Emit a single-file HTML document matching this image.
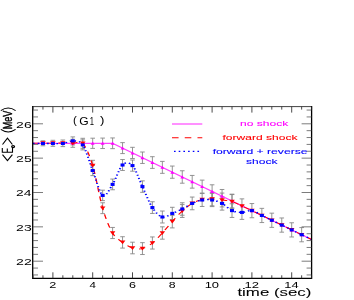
<!DOCTYPE html><html><head><meta charset="utf-8"><style>html,body{margin:0;padding:0;background:#fff;width:354px;height:300px;overflow:hidden}</style></head><body><svg width="354" height="300" viewBox="0 0 354 300" style="position:absolute;left:0;top:0;will-change:transform" font-family="Liberation Sans, sans-serif">
<defs><clipPath id="cp"><rect x="33.00" y="106.60" width="278.60" height="171.70"/></clipPath></defs>
<path d="M42.95 140.80V145.80M40.65 140.80H45.25M40.65 145.80H45.25" stroke="#888888" stroke-width="0.9" fill="none"/>
<path d="M52.90 140.30V146.30M50.60 140.30H55.20M50.60 146.30H55.20" stroke="#888888" stroke-width="0.9" fill="none"/>
<path d="M62.85 140.00V146.60M60.55 140.00H65.15M60.55 146.60H65.15" stroke="#888888" stroke-width="0.9" fill="none"/>
<path d="M72.80 139.30V147.30M70.50 139.30H75.10M70.50 147.30H75.10" stroke="#888888" stroke-width="0.9" fill="none"/>
<path d="M72.80 136.90V144.90M70.50 136.90H75.10M70.50 144.90H75.10" stroke="#888888" stroke-width="0.9" fill="none"/>
<path d="M82.75 138.30V148.30M80.45 138.30H85.05M80.45 148.30H85.05" stroke="#888888" stroke-width="0.9" fill="none"/>
<path d="M82.75 139.90V149.90M80.45 139.90H85.05M80.45 149.90H85.05" stroke="#888888" stroke-width="0.9" fill="none"/>
<path d="M92.70 138.20V148.40M90.40 138.20H95.00M90.40 148.40H95.00" stroke="#888888" stroke-width="0.9" fill="none"/>
<path d="M92.70 165.40V175.60M90.40 165.40H95.00M90.40 175.60H95.00" stroke="#888888" stroke-width="0.9" fill="none"/>
<path d="M92.70 160.30V170.90M90.40 160.30H95.00M90.40 170.90H95.00" stroke="#888888" stroke-width="0.9" fill="none"/>
<path d="M102.65 138.08V148.53M100.35 138.08H104.95M100.35 148.53H104.95" stroke="#888888" stroke-width="0.9" fill="none"/>
<path d="M102.65 190.18V200.62M100.35 190.18H104.95M100.35 200.62H104.95" stroke="#888888" stroke-width="0.9" fill="none"/>
<path d="M102.65 202.77V213.62M100.35 202.77H104.95M100.35 213.62H104.95" stroke="#888888" stroke-width="0.9" fill="none"/>
<path d="M112.60 137.95V148.65M110.30 137.95H114.90M110.30 148.65H114.90" stroke="#888888" stroke-width="0.9" fill="none"/>
<path d="M112.60 179.05V189.75M110.30 179.05H114.90M110.30 189.75H114.90" stroke="#888888" stroke-width="0.9" fill="none"/>
<path d="M112.60 227.45V238.55M110.30 227.45H114.90M110.30 238.55H114.90" stroke="#888888" stroke-width="0.9" fill="none"/>
<path d="M122.55 142.64V153.59M120.25 142.64H124.85M120.25 153.59H124.85" stroke="#888888" stroke-width="0.9" fill="none"/>
<path d="M122.55 159.53V170.47M120.25 159.53H124.85M120.25 170.47H124.85" stroke="#888888" stroke-width="0.9" fill="none"/>
<path d="M122.55 236.72V248.08M120.25 236.72H124.85M120.25 248.08H124.85" stroke="#888888" stroke-width="0.9" fill="none"/>
<path d="M132.50 147.32V158.52M130.20 147.32H134.80M130.20 158.52H134.80" stroke="#888888" stroke-width="0.9" fill="none"/>
<path d="M132.50 160.00V171.20M130.20 160.00H134.80M130.20 171.20H134.80" stroke="#888888" stroke-width="0.9" fill="none"/>
<path d="M132.50 242.20V253.80M130.20 242.20H134.80M130.20 253.80H134.80" stroke="#888888" stroke-width="0.9" fill="none"/>
<path d="M142.45 152.01V163.46M140.15 152.01H144.75M140.15 163.46H144.75" stroke="#888888" stroke-width="0.9" fill="none"/>
<path d="M142.45 180.88V192.32M140.15 180.88H144.75M140.15 192.32H144.75" stroke="#888888" stroke-width="0.9" fill="none"/>
<path d="M142.45 242.67V254.53M140.15 242.67H144.75M140.15 254.53H144.75" stroke="#888888" stroke-width="0.9" fill="none"/>
<path d="M152.40 156.69V168.39M150.10 156.69H154.70M150.10 168.39H154.70" stroke="#888888" stroke-width="0.9" fill="none"/>
<path d="M152.40 201.75V213.45M150.10 201.75H154.70M150.10 213.45H154.70" stroke="#888888" stroke-width="0.9" fill="none"/>
<path d="M152.40 236.95V249.05M150.10 236.95H154.70M150.10 249.05H154.70" stroke="#888888" stroke-width="0.9" fill="none"/>
<path d="M162.35 161.38V173.33M160.05 161.38H164.65M160.05 173.33H164.65" stroke="#888888" stroke-width="0.9" fill="none"/>
<path d="M162.35 211.03V222.97M160.05 211.03H164.65M160.05 222.97H164.65" stroke="#888888" stroke-width="0.9" fill="none"/>
<path d="M162.35 226.82V239.18M160.05 226.82H164.65M160.05 239.18H164.65" stroke="#888888" stroke-width="0.9" fill="none"/>
<path d="M172.30 166.06V178.26M170.00 166.06H174.60M170.00 178.26H174.60" stroke="#888888" stroke-width="0.9" fill="none"/>
<path d="M172.30 207.30V219.50M170.00 207.30H174.60M170.00 219.50H174.60" stroke="#888888" stroke-width="0.9" fill="none"/>
<path d="M172.30 215.30V227.90M170.00 215.30H174.60M170.00 227.90H174.60" stroke="#888888" stroke-width="0.9" fill="none"/>
<path d="M182.25 170.75V183.19M179.95 170.75H184.55M179.95 183.19H184.55" stroke="#888888" stroke-width="0.9" fill="none"/>
<path d="M182.25 202.78V215.22M179.95 202.78H184.55M179.95 215.22H184.55" stroke="#888888" stroke-width="0.9" fill="none"/>
<path d="M182.25 204.57V217.43M179.95 204.57H184.55M179.95 217.43H184.55" stroke="#888888" stroke-width="0.9" fill="none"/>
<path d="M192.20 175.43V188.13M189.90 175.43H194.50M189.90 188.13H194.50" stroke="#888888" stroke-width="0.9" fill="none"/>
<path d="M192.20 197.05V209.75M189.90 197.05H194.50M189.90 209.75H194.50" stroke="#888888" stroke-width="0.9" fill="none"/>
<path d="M202.15 180.12V193.06M199.85 180.12H204.45M199.85 193.06H204.45" stroke="#888888" stroke-width="0.9" fill="none"/>
<path d="M202.15 193.53V206.47M199.85 193.53H204.45M199.85 206.47H204.45" stroke="#888888" stroke-width="0.9" fill="none"/>
<path d="M212.10 184.80V198.00M209.80 184.80H214.40M209.80 198.00H214.40" stroke="#888888" stroke-width="0.9" fill="none"/>
<path d="M212.10 193.40V206.60M209.80 193.40H214.40M209.80 206.60H214.40" stroke="#888888" stroke-width="0.9" fill="none"/>
<path d="M212.10 192.20V205.80M209.80 192.20H214.40M209.80 205.80H214.40" stroke="#888888" stroke-width="0.9" fill="none"/>
<path d="M222.05 189.49V202.94M219.75 189.49H224.35M219.75 202.94H224.35" stroke="#888888" stroke-width="0.9" fill="none"/>
<path d="M222.05 196.68V210.12M219.75 196.68H224.35M219.75 210.12H224.35" stroke="#888888" stroke-width="0.9" fill="none"/>
<path d="M222.05 193.07V206.93M219.75 193.07H224.35M219.75 206.93H224.35" stroke="#888888" stroke-width="0.9" fill="none"/>
<path d="M232.00 194.17V207.87M229.70 194.17H234.30M229.70 207.87H234.30" stroke="#888888" stroke-width="0.9" fill="none"/>
<path d="M232.00 203.75V217.45M229.70 203.75H234.30M229.70 217.45H234.30" stroke="#888888" stroke-width="0.9" fill="none"/>
<path d="M232.00 194.55V208.65M229.70 194.55H234.30M229.70 208.65H234.30" stroke="#888888" stroke-width="0.9" fill="none"/>
<path d="M241.95 198.86V212.81M239.65 198.86H244.25M239.65 212.81H244.25" stroke="#888888" stroke-width="0.9" fill="none"/>
<path d="M241.95 205.43V219.38M239.65 205.43H244.25M239.65 219.38H244.25" stroke="#888888" stroke-width="0.9" fill="none"/>
<path d="M251.90 203.54V217.74M249.60 203.54H254.20M249.60 217.74H254.20" stroke="#888888" stroke-width="0.9" fill="none"/>
<path d="M261.85 208.35V222.55M259.55 208.35H264.15M259.55 222.55H264.15" stroke="#888888" stroke-width="0.9" fill="none"/>
<path d="M271.80 213.16V227.36M269.50 213.16H274.10M269.50 227.36H274.10" stroke="#888888" stroke-width="0.9" fill="none"/>
<path d="M281.75 217.97V232.17M279.45 217.97H284.05M279.45 232.17H284.05" stroke="#888888" stroke-width="0.9" fill="none"/>
<path d="M291.70 222.78V236.98M289.40 222.78H294.00M289.40 236.98H294.00" stroke="#888888" stroke-width="0.9" fill="none"/>
<path d="M301.65 227.59V241.79M299.35 227.59H303.95M299.35 241.79H303.95" stroke="#888888" stroke-width="0.9" fill="none"/>
<g clip-path="url(#cp)"><g fill="none" transform="scale(1.400,1)">
<path d="M23.57 143.30L80.43 143.30L222.57 239.50" stroke="#ff40ff" stroke-width="1.15"/>
<path d="M23.57 143.10 C24.76 143.10 28.31 143.10 30.68 143.10 C33.05 143.10 35.42 143.10 37.79 143.10 C40.15 143.10 42.52 143.05 44.89 143.10 C47.26 143.15 49.63 143.35 52.00 143.40 C54.37 143.45 56.74 139.70 59.11 143.40 C61.48 147.10 63.85 154.80 66.21 165.60 C68.58 176.40 70.95 196.97 73.32 208.20 C75.69 219.43 78.06 227.30 80.43 233.00 C82.80 238.70 85.17 239.90 87.54 242.40 C89.90 244.90 92.27 246.97 94.64 248.00 C97.01 249.03 99.38 249.43 101.75 248.60 C104.12 247.77 106.49 245.60 108.86 243.00 C111.23 240.40 113.60 236.57 115.96 233.00 C118.33 229.43 120.70 225.27 123.07 221.60 C125.44 217.93 127.81 214.03 130.18 211.00 C132.55 207.97 134.92 205.30 137.29 203.40 C139.65 201.50 142.02 200.33 144.39 199.60 C146.76 198.87 149.13 198.93 151.50 199.00 C153.87 199.07 156.24 199.57 158.61 200.00 C160.98 200.43 163.35 200.60 165.71 201.60 C168.08 202.60 170.45 204.50 172.82 206.00 C175.19 207.50 177.56 209.03 179.93 210.60 C182.30 212.17 184.67 213.84 187.04 215.45 C189.40 217.06 191.77 218.66 194.14 220.26 C196.51 221.86 198.88 223.47 201.25 225.07 C203.62 226.67 205.99 228.28 208.36 229.88 C210.73 231.48 213.10 233.09 215.46 234.69 C217.83 236.29 221.39 238.70 222.57 239.50" stroke="#ff0000" stroke-width="0.95" stroke-dasharray="4.7 4.4"/>
<path d="M23.57 143.50 C24.76 143.50 28.31 143.50 30.68 143.50 C33.05 143.50 35.42 143.50 37.79 143.50 C40.15 143.50 42.52 143.93 44.89 143.50 C47.26 143.07 49.63 140.67 52.00 140.90 C54.37 141.13 56.74 139.97 59.11 144.90 C61.48 149.83 63.85 162.08 66.21 170.50 C68.58 178.92 70.95 193.08 73.32 195.40 C75.69 197.72 78.06 189.47 80.43 184.40 C82.80 179.33 85.17 168.13 87.54 165.00 C89.90 161.87 92.27 162.00 94.64 165.60 C97.01 169.20 99.38 179.60 101.75 186.60 C104.12 193.60 106.49 202.53 108.86 207.60 C111.23 212.67 113.60 216.03 115.96 217.00 C118.33 217.97 120.70 214.73 123.07 213.40 C125.44 212.07 127.81 210.67 130.18 209.00 C132.55 207.33 134.92 204.90 137.29 203.40 C139.65 201.90 142.02 200.57 144.39 200.00 C146.76 199.43 149.13 199.43 151.50 200.00 C153.87 200.57 156.24 201.63 158.61 203.40 C160.98 205.17 163.35 209.10 165.71 210.60 C168.08 212.10 170.45 212.40 172.82 212.40 C175.19 212.40 177.56 210.09 179.93 210.60 C182.30 211.11 184.67 213.84 187.04 215.45 C189.40 217.06 191.77 218.66 194.14 220.26 C196.51 221.86 198.88 223.47 201.25 225.07 C203.62 226.67 205.99 228.28 208.36 229.88 C210.73 231.48 213.10 233.09 215.46 234.69 C217.83 236.29 221.39 238.70 222.57 239.50" stroke="#0000ff" stroke-width="1.4" stroke-dasharray="1.15 2.2"/>
</g></g>
<path d="M42.95 141.60l1.9 3.2h-3.8z" fill="#ff00ff"/>
<path d="M52.90 141.60l1.9 3.2h-3.8z" fill="#ff00ff"/>
<path d="M62.85 141.60l1.9 3.2h-3.8z" fill="#ff00ff"/>
<path d="M72.80 141.60l1.9 3.2h-3.8z" fill="#ff00ff"/>
<path d="M82.75 141.60l1.9 3.2h-3.8z" fill="#ff00ff"/>
<path d="M92.70 141.60l1.9 3.2h-3.8z" fill="#ff00ff"/>
<path d="M102.65 141.60l1.9 3.2h-3.8z" fill="#ff00ff"/>
<path d="M112.60 141.60l1.9 3.2h-3.8z" fill="#ff00ff"/>
<path d="M122.55 146.41l1.9 3.2h-3.8z" fill="#ff00ff"/>
<path d="M132.50 151.22l1.9 3.2h-3.8z" fill="#ff00ff"/>
<path d="M142.45 156.03l1.9 3.2h-3.8z" fill="#ff00ff"/>
<path d="M152.40 160.84l1.9 3.2h-3.8z" fill="#ff00ff"/>
<path d="M162.35 165.65l1.9 3.2h-3.8z" fill="#ff00ff"/>
<path d="M172.30 170.46l1.9 3.2h-3.8z" fill="#ff00ff"/>
<path d="M182.25 175.27l1.9 3.2h-3.8z" fill="#ff00ff"/>
<path d="M192.20 180.08l1.9 3.2h-3.8z" fill="#ff00ff"/>
<path d="M202.15 184.89l1.9 3.2h-3.8z" fill="#ff00ff"/>
<path d="M212.10 189.70l1.9 3.2h-3.8z" fill="#ff00ff"/>
<path d="M222.05 194.51l1.9 3.2h-3.8z" fill="#ff00ff"/>
<path d="M232.00 199.32l1.9 3.2h-3.8z" fill="#ff00ff"/>
<path d="M241.95 204.13l1.9 3.2h-3.8z" fill="#ff00ff"/>
<path d="M251.90 208.94l1.9 3.2h-3.8z" fill="#ff00ff"/>
<path d="M261.85 213.75l1.9 3.2h-3.8z" fill="#ff00ff"/>
<path d="M271.80 218.56l1.9 3.2h-3.8z" fill="#ff00ff"/>
<path d="M281.75 223.37l1.9 3.2h-3.8z" fill="#ff00ff"/>
<path d="M291.70 228.18l1.9 3.2h-3.8z" fill="#ff00ff"/>
<path d="M301.65 232.99l1.9 3.2h-3.8z" fill="#ff00ff"/>
<path d="M40.15 141.30h5.6l-2.8 3.7z" fill="#ff0000"/>
<path d="M50.10 141.30h5.6l-2.8 3.7z" fill="#ff0000"/>
<path d="M60.05 141.30h5.6l-2.8 3.7z" fill="#ff0000"/>
<path d="M70.00 141.60h5.6l-2.8 3.7z" fill="#ff0000"/>
<path d="M79.95 141.60h5.6l-2.8 3.7z" fill="#ff0000"/>
<path d="M89.90 163.80h5.6l-2.8 3.7z" fill="#ff0000"/>
<path d="M99.85 206.40h5.6l-2.8 3.7z" fill="#ff0000"/>
<path d="M109.80 231.20h5.6l-2.8 3.7z" fill="#ff0000"/>
<path d="M119.75 240.60h5.6l-2.8 3.7z" fill="#ff0000"/>
<path d="M129.70 246.20h5.6l-2.8 3.7z" fill="#ff0000"/>
<path d="M139.65 246.80h5.6l-2.8 3.7z" fill="#ff0000"/>
<path d="M149.60 241.20h5.6l-2.8 3.7z" fill="#ff0000"/>
<path d="M159.55 231.20h5.6l-2.8 3.7z" fill="#ff0000"/>
<path d="M169.50 219.80h5.6l-2.8 3.7z" fill="#ff0000"/>
<path d="M179.45 209.20h5.6l-2.8 3.7z" fill="#ff0000"/>
<path d="M189.40 201.60h5.6l-2.8 3.7z" fill="#ff0000"/>
<path d="M199.35 197.80h5.6l-2.8 3.7z" fill="#ff0000"/>
<path d="M209.30 197.20h5.6l-2.8 3.7z" fill="#ff0000"/>
<path d="M219.25 198.20h5.6l-2.8 3.7z" fill="#ff0000"/>
<path d="M229.20 199.80h5.6l-2.8 3.7z" fill="#ff0000"/>
<path d="M239.15 204.20h5.6l-2.8 3.7z" fill="#ff0000"/>
<path d="M249.10 208.80h5.6l-2.8 3.7z" fill="#ff0000"/>
<path d="M259.05 213.65h5.6l-2.8 3.7z" fill="#ff0000"/>
<path d="M269.00 218.46h5.6l-2.8 3.7z" fill="#ff0000"/>
<path d="M278.95 223.27h5.6l-2.8 3.7z" fill="#ff0000"/>
<path d="M288.90 228.08h5.6l-2.8 3.7z" fill="#ff0000"/>
<path d="M298.85 232.89h5.6l-2.8 3.7z" fill="#ff0000"/>
<rect x="40.95" y="141.95" width="4.0" height="3.1" fill="#0000ff"/>
<rect x="50.90" y="141.95" width="4.0" height="3.1" fill="#0000ff"/>
<rect x="60.85" y="141.95" width="4.0" height="3.1" fill="#0000ff"/>
<rect x="70.80" y="139.35" width="4.0" height="3.1" fill="#0000ff"/>
<rect x="80.75" y="143.35" width="4.0" height="3.1" fill="#0000ff"/>
<rect x="90.70" y="168.95" width="4.0" height="3.1" fill="#0000ff"/>
<rect x="100.65" y="193.85" width="4.0" height="3.1" fill="#0000ff"/>
<rect x="110.60" y="182.85" width="4.0" height="3.1" fill="#0000ff"/>
<rect x="120.55" y="163.45" width="4.0" height="3.1" fill="#0000ff"/>
<rect x="130.50" y="164.05" width="4.0" height="3.1" fill="#0000ff"/>
<rect x="140.45" y="185.05" width="4.0" height="3.1" fill="#0000ff"/>
<rect x="150.40" y="206.05" width="4.0" height="3.1" fill="#0000ff"/>
<rect x="160.35" y="215.45" width="4.0" height="3.1" fill="#0000ff"/>
<rect x="170.30" y="211.85" width="4.0" height="3.1" fill="#0000ff"/>
<rect x="180.25" y="207.45" width="4.0" height="3.1" fill="#0000ff"/>
<rect x="190.20" y="201.85" width="4.0" height="3.1" fill="#0000ff"/>
<rect x="200.15" y="198.45" width="4.0" height="3.1" fill="#0000ff"/>
<rect x="210.10" y="198.45" width="4.0" height="3.1" fill="#0000ff"/>
<rect x="220.05" y="201.85" width="4.0" height="3.1" fill="#0000ff"/>
<rect x="230.00" y="209.05" width="4.0" height="3.1" fill="#0000ff"/>
<rect x="239.95" y="210.85" width="4.0" height="3.1" fill="#0000ff"/>
<rect x="249.90" y="209.05" width="4.0" height="3.1" fill="#0000ff"/>
<rect x="259.85" y="213.90" width="4.0" height="3.1" fill="#0000ff"/>
<rect x="269.80" y="218.71" width="4.0" height="3.1" fill="#0000ff"/>
<rect x="279.75" y="223.52" width="4.0" height="3.1" fill="#0000ff"/>
<rect x="289.70" y="228.33" width="4.0" height="3.1" fill="#0000ff"/>
<rect x="299.65" y="233.14" width="4.0" height="3.1" fill="#0000ff"/>
<path d="M32.70 106.60V278.30M311.60 106.60V278.30" stroke="#000" stroke-width="1.3" stroke-linecap="square" fill="none"/>
<path d="M33.00 106.60H311.60" stroke="#111" stroke-width="0.8" fill="none"/>
<path d="M33.00 278.30H311.60" stroke="#000" stroke-width="1.2" fill="none"/>
<path d="M33.00 278.30v-3.00M33.00 106.60v3.00M42.95 278.30v-3.00M42.95 106.60v3.00M52.90 278.30v-6.00M52.90 106.60v6.00M62.85 278.30v-3.00M62.85 106.60v3.00M72.80 278.30v-3.00M72.80 106.60v3.00M82.75 278.30v-3.00M82.75 106.60v3.00M92.70 278.30v-6.00M92.70 106.60v6.00M102.65 278.30v-3.00M102.65 106.60v3.00M112.60 278.30v-3.00M112.60 106.60v3.00M122.55 278.30v-3.00M122.55 106.60v3.00M132.50 278.30v-6.00M132.50 106.60v6.00M142.45 278.30v-3.00M142.45 106.60v3.00M152.40 278.30v-3.00M152.40 106.60v3.00M162.35 278.30v-3.00M162.35 106.60v3.00M172.30 278.30v-6.00M172.30 106.60v6.00M182.25 278.30v-3.00M182.25 106.60v3.00M192.20 278.30v-3.00M192.20 106.60v3.00M202.15 278.30v-3.00M202.15 106.60v3.00M212.10 278.30v-6.00M212.10 106.60v6.00M222.05 278.30v-3.00M222.05 106.60v3.00M232.00 278.30v-3.00M232.00 106.60v3.00M241.95 278.30v-3.00M241.95 106.60v3.00M251.90 278.30v-6.00M251.90 106.60v6.00M261.85 278.30v-3.00M261.85 106.60v3.00M271.80 278.30v-3.00M271.80 106.60v3.00M281.75 278.30v-3.00M281.75 106.60v3.00M291.70 278.30v-6.00M291.70 106.60v6.00M301.65 278.30v-3.00M301.65 106.60v3.00M311.60 278.30v-3.00M311.60 106.60v3.00" stroke="#2a2a2a" stroke-width="0.85" fill="none"/>
<path d="M33.00 274.94h5.00M311.60 274.94h-5.00M33.00 268.07h5.00M311.60 268.07h-5.00M33.00 261.20h10.00M311.60 261.20h-10.00M33.00 254.33h5.00M311.60 254.33h-5.00M33.00 247.46h5.00M311.60 247.46h-5.00M33.00 240.59h5.00M311.60 240.59h-5.00M33.00 233.72h5.00M311.60 233.72h-5.00M33.00 226.85h10.00M311.60 226.85h-10.00M33.00 219.98h5.00M311.60 219.98h-5.00M33.00 213.11h5.00M311.60 213.11h-5.00M33.00 206.24h5.00M311.60 206.24h-5.00M33.00 199.37h5.00M311.60 199.37h-5.00M33.00 192.50h10.00M311.60 192.50h-10.00M33.00 185.63h5.00M311.60 185.63h-5.00M33.00 178.76h5.00M311.60 178.76h-5.00M33.00 171.89h5.00M311.60 171.89h-5.00M33.00 165.02h5.00M311.60 165.02h-5.00M33.00 158.15h10.00M311.60 158.15h-10.00M33.00 151.28h5.00M311.60 151.28h-5.00M33.00 144.41h5.00M311.60 144.41h-5.00M33.00 137.54h5.00M311.60 137.54h-5.00M33.00 130.67h5.00M311.60 130.67h-5.00M33.00 123.80h10.00M311.60 123.80h-10.00M33.00 116.93h5.00M311.60 116.93h-5.00M33.00 110.06h5.00M311.60 110.06h-5.00" stroke="#444" stroke-width="0.7" fill="none"/>
<text transform="matrix(1.4130,0,0,0.8883,16.09,265.10)" font-size="10" fill="#000" stroke="#000" stroke-width="0.00" >22</text>
<text transform="matrix(1.4047,0,0,0.8883,16.10,230.75)" font-size="10" fill="#000" stroke="#000" stroke-width="0.00" >23</text>
<text transform="matrix(1.3843,0,0,0.8883,16.11,196.40)" font-size="10" fill="#000" stroke="#000" stroke-width="0.00" >24</text>
<text transform="matrix(1.4020,0,0,0.8883,16.10,162.05)" font-size="10" fill="#000" stroke="#000" stroke-width="0.00" >25</text>
<text transform="matrix(1.4047,0,0,0.8883,16.10,127.70)" font-size="10" fill="#000" stroke="#000" stroke-width="0.00" >26</text>
<text transform="matrix(1.2719,0,0,0.8309,49.36,287.50)" font-size="10" fill="#000" stroke="#000" stroke-width="0.00" >2</text>
<text transform="matrix(1.1508,0,0,0.8430,89.54,287.50)" font-size="10" fill="#000" stroke="#000" stroke-width="0.00" >4</text>
<text transform="matrix(1.2581,0,0,0.8309,128.96,287.50)" font-size="10" fill="#000" stroke="#000" stroke-width="0.00" >6</text>
<text transform="matrix(1.2340,0,0,0.8309,168.87,287.50)" font-size="10" fill="#000" stroke="#000" stroke-width="0.00" >8</text>
<text transform="matrix(1.2939,0,0,0.8309,204.67,287.50)" font-size="10" fill="#000" stroke="#000" stroke-width="0.00" >10</text>
<text transform="matrix(1.3083,0,0,0.8309,244.46,287.50)" font-size="10" fill="#000" stroke="#000" stroke-width="0.00" >12</text>
<text transform="matrix(1.2810,0,0,0.8430,284.28,287.50)" font-size="10" fill="#000" stroke="#000" stroke-width="0.00" >14</text>
<text transform="matrix(1.6837,0,0,1.0897,237.45,295.60)" font-size="10" fill="#000" stroke="#000" stroke-width="0.05" >time (sec)</text>
<text transform="matrix(1.1698,0,0,1.0837,73.07,124.36)" font-size="10" fill="#000" stroke="#000" stroke-width="0.00">(</text>
<text transform="matrix(1.2098,0,0,1.0028,79.20,124.70)" font-size="10" fill="#000" stroke="#000" stroke-width="0.00">G</text>
<text transform="matrix(0.7657,0,0,1.0029,89.72,124.70)" font-size="10" fill="#000" stroke="#000" stroke-width="0.00">1</text>
<text transform="matrix(1.3208,0,0,1.0837,99.92,124.36)" font-size="10" fill="#000" stroke="#000" stroke-width="0.00">)</text>
<text transform="matrix(1.2065,0,0,0.7586,240.10,126.30)" font-size="10" fill="#ff00ff" stroke="#ff00ff" stroke-width="0.12" >no shock</text>
<text transform="matrix(1.2057,0,0,0.7724,222.53,140.00)" font-size="10" fill="#ff0000" stroke="#ff0000" stroke-width="0.12" >forward shock</text>
<text transform="matrix(1.2168,0,0,0.7862,212.63,153.70)" font-size="10" fill="#0000ff" stroke="#0000ff" stroke-width="0.12" >forward + reverse</text>
<text transform="matrix(1.2031,0,0,0.7172,246.06,163.70)" font-size="10" fill="#0000ff" stroke="#0000ff" stroke-width="0.12" >shock</text>
<path d="M2.5 154.6L7.45 160.7L12.4 154.6" stroke="#000" stroke-width="1.1" fill="none" stroke-linejoin="miter"/>
<path d="M2.3 148.1V152.2H12.5V148.1M7.3 152.2V148.6" stroke="#000" stroke-width="1.1" fill="none" stroke-linejoin="miter"/>
<path d="M2.5 144.5L7.45 138.2L12.4 144.5" stroke="#000" stroke-width="1.1" fill="none" stroke-linejoin="miter"/>
<ellipse cx="13.1" cy="146.6" rx="1.5" ry="1.0" fill="none" stroke="#000" stroke-width="1.1"/>
<text transform="translate(11.7,129.35) rotate(-90) scale(0.9091,1.2209)" font-size="10" fill="#000" stroke="#000" stroke-width="0.35">MeV</text>
<path d="M0.8 129.4Q8.2 134.6 15.6 129.4" stroke="#000" stroke-width="1.1" fill="none" stroke-linejoin="miter"/>
<path d="M0.8 110.6Q8.2 105.4 15.6 110.6" stroke="#000" stroke-width="1.1" fill="none" stroke-linejoin="miter"/>
<g transform="scale(1.400,1)" fill="none">
<path d="M122.86 124H144.50" stroke="#ff40ff" stroke-width="1.15"/>
<path d="M122.86 137.8H144.50" stroke="#ff0000" stroke-width="1.05" stroke-dasharray="4.7 4.4"/>
<path d="M124.29 151.4H144.29" stroke="#0000ff" stroke-width="1.4" stroke-dasharray="1.15 2.2"/>
</g>
</svg></body></html>
